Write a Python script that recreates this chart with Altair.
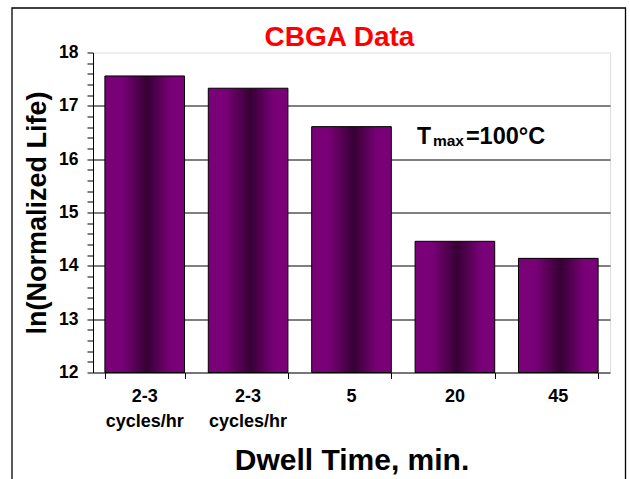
import altair as alt
import pandas as pd

# ---- data ----
x_line1 = ["2-3", "2-3", "5", "20", "45"]
x_line2 = ["cycles/hr", "cycles/hr", "", "", ""]
values = [17.56, 17.33, 16.61, 14.46, 14.14]
y_domain = [12, 18]
y_ticks = [12.0, 12.2, 12.4, 12.6, 12.8, 13.0, 13.2, 13.4, 13.6, 13.8,
           14.0, 14.2, 14.4, 14.6, 14.8, 15.0, 15.2, 15.4, 15.6, 15.8,
           16.0, 16.2, 16.4, 16.6, 16.8, 17.0, 17.2, 17.4, 17.6, 17.8, 18.0]
chart_title = "CBGA Data"
x_title = "Dwell Time, min."
y_title = "ln(Normalized Life)"
ann_main = "T"
ann_sub = "max"
ann_rest = "=100°C"
ann_cat_index = 3
ann_value = 16.28

FONT = "Liberation Sans"
keys = [f"c{i}" for i in range(len(x_line1))]
df = pd.DataFrame({"cat": keys, "val": values, "line1": x_line1, "line2": x_line2})
ann_df = pd.DataFrame({"cat": [keys[ann_cat_index]], "val": [ann_value]})
frame_df = pd.DataFrame({"k": [0]})

grad = alt.Gradient(
    gradient="linear",
    stops=[
        alt.GradientStop(color="#7b0079", offset=0),
        alt.GradientStop(color="#780076", offset=0.22),
        alt.GradientStop(color="#360034", offset=0.53),
        alt.GradientStop(color="#780076", offset=0.82),
        alt.GradientStop(color="#7b0079", offset=1),
    ],
    x1=0, x2=1, y1=0, y2=0,
)

x_enc = alt.X(
    "cat:N", sort=keys, title=x_title,
    scale=alt.Scale(paddingInner=0.23, paddingOuter=0.115),
    axis=alt.Axis(
        labels=False,
        tickBand="extent", tickSize=6, tickColor="black", tickWidth=1,
        domainColor="black", domainWidth=1,
        titleFontSize=30, titleFont=FONT, titleFontWeight="bold", titleColor="black",
        titlePadding=66,
    ),
)

is_int = "abs(datum.value - round(datum.value)) < 0.01"
y_enc = alt.Y(
    "val:Q", title=y_title,
    scale=alt.Scale(domain=y_domain, nice=False, zero=False),
    axis=alt.Axis(
        values=y_ticks,
        labelExpr=f"{is_int} ? format(datum.value, 'd') : ''",
        labelFontSize=17.5, labelFont=FONT, labelFontWeight="bold", labelColor="black",
        labelPadding=9, labelOverlap=False,
        tickSize=6, tickColor="black", tickWidth=1,
        domainColor="black", domainWidth=1,
        grid=True, gridColor="black", gridWidth=1,
        gridOpacity={"condition": {"test": f"{is_int} && datum.value > 12.5 && datum.value < 17.5", "value": 1}, "value": 0},
        titleFontSize=27, titleFont=FONT, titleFontWeight="bold", titleColor="black",
        titlePadding=7,
    ),
)

bars = alt.Chart(df).mark_bar(fill=grad, stroke="black", strokeWidth=1).encode(
    x=x_enc, y=y_enc, y2=alt.datum(12)
)

lab_kw = dict(align="center", baseline="alphabetic", font=FONT, fontWeight="bold",
              fontSize=18, color="black")
lab1 = alt.Chart(df).mark_text(**lab_kw).encode(x=x_enc, y=alt.value(349.2), text="line1:N")
lab2 = alt.Chart(df).mark_text(**lab_kw).encode(x=x_enc, y=alt.value(374.2), text="line2:N")

txt_kw = dict(align="left", baseline="alphabetic", font=FONT, fontWeight="bold", color="black")
t1 = alt.Chart(ann_df).mark_text(text=ann_main, dx=-38, fontSize=23, **txt_kw).encode(x=x_enc, y=y_enc)
t2 = alt.Chart(ann_df).mark_text(text=ann_sub, dx=-22, dy=1.5, fontSize=15.5, **txt_kw).encode(x=x_enc, y=y_enc)
t3 = alt.Chart(ann_df).mark_text(text=ann_rest, dx=11, fontSize=23.5, **txt_kw).encode(x=x_enc, y=y_enc)

frame = alt.Chart(frame_df).mark_rect(fill=None, stroke="black", strokeWidth=1.3).encode(
    x=alt.value(-81), x2=alt.value(532.5), y=alt.value(-44.5), y2=alt.value(440)
)

chart = alt.layer(bars, lab1, lab2, t1, t2, t3, frame).properties(
    width=517, height=320,
    autosize=alt.AutoSizeParams(type="none"),
    padding={"left": 93, "top": 52.5, "right": 20, "bottom": 106.5},
    title=alt.TitleParams(
        chart_title, fontSize=28, font=FONT, fontWeight="bold", color="#ff0000",
        anchor="middle", dx=-12, baseline="alphabetic", offset=0, dy=67,
    ),
).configure_view(
    fill="#FFFFCC", stroke="#8c8c8c", strokeWidth=1
).configure(background="white")

chart.save("out.html", embed_options={"renderer": "svg", "actions": False})
